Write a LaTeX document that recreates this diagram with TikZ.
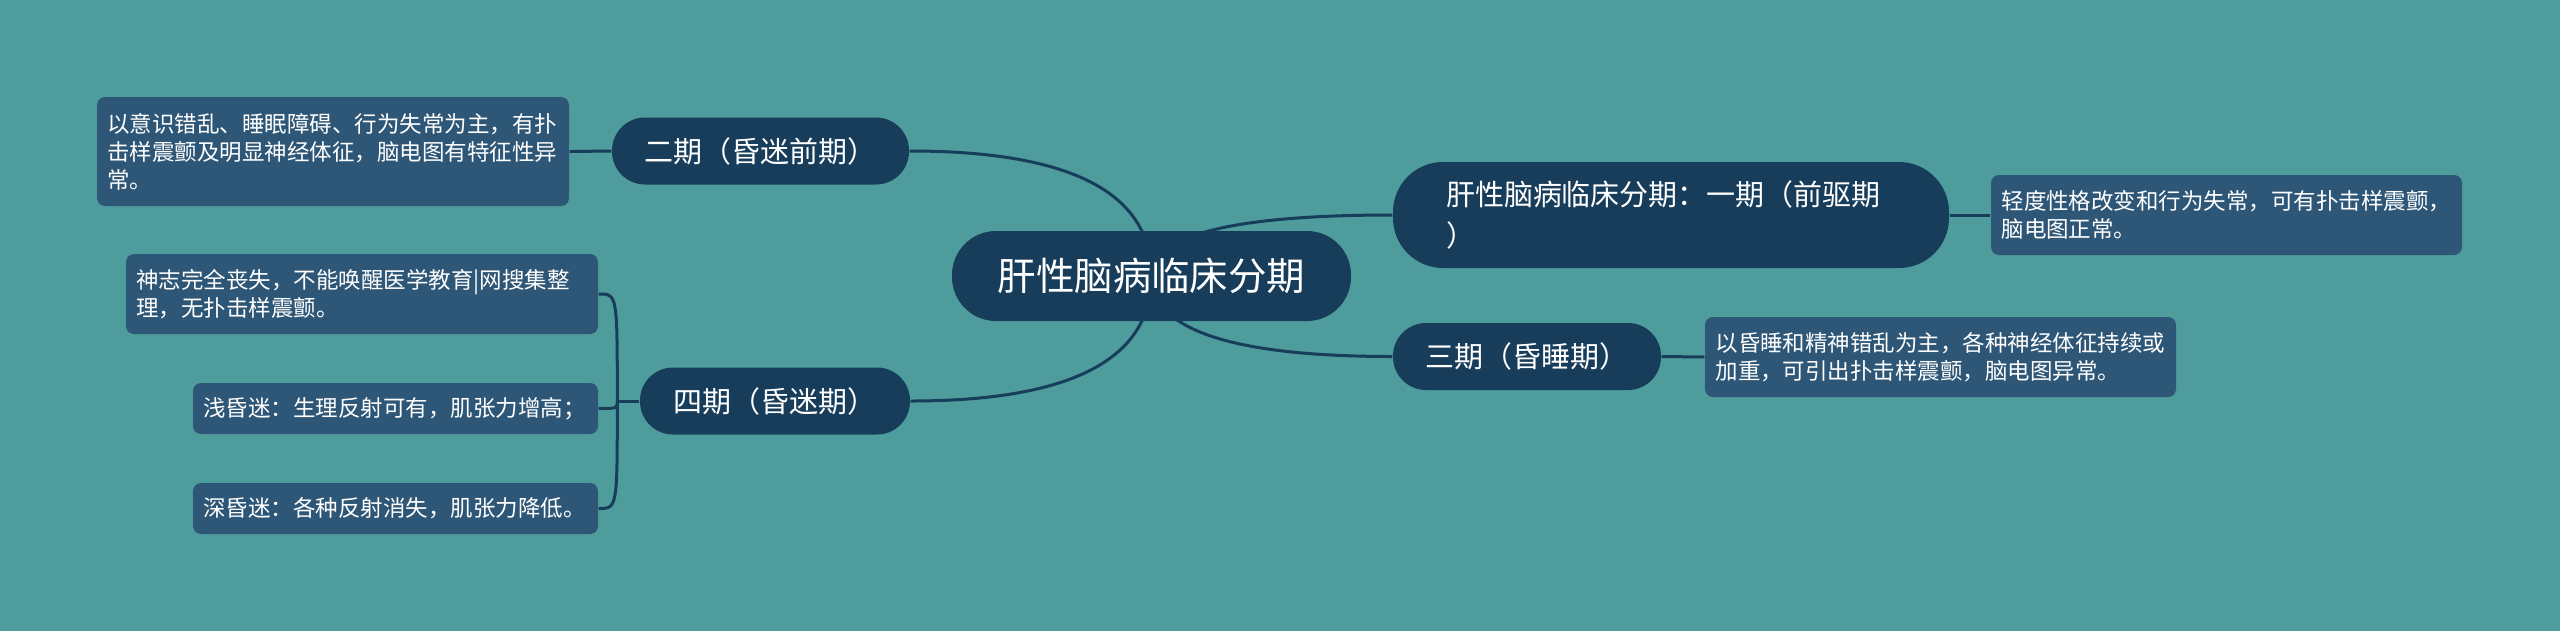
\documentclass[tikz,border=0pt]{standalone}
\usepackage{fontspec}
\setmainfont{Noto Sans CJK SC}
\usetikzlibrary{calc}
\definecolor{bgc}{HTML}{4E9C9C}
\definecolor{navy}{HTML}{173D5B}
\definecolor{boxc}{HTML}{2E5777}
\pgfdeclarelayer{bgl}
\pgfdeclarelayer{edges}
\pgfsetlayers{bgl,edges,main}
\begin{document}
\begin{tikzpicture}[x=0.1mm,y=-0.1mm,
 root/.style={fill=navy,text=white,rounded corners=4.4mm,minimum width=39.9mm,minimum height=9mm,inner sep=0pt,font=\fontsize{10.95pt}{13pt}\selectfont},
 branch/.style={fill=navy,text=white,rounded corners=3.3mm,minimum height=6.7mm,inner sep=0pt,font=\fontsize{8.25pt}{11.4pt}\selectfont},
 leaf/.style={fill=boxc,text=white,rounded corners=0.8mm,inner xsep=1.05mm,inner ysep=0pt,align=left,font=\fontsize{6.4pt}{7.97pt}\selectfont},
 edge/.style={draw=navy,line width=0.3mm}
]
\useasboundingbox (0,0) rectangle (2560,631);
\begin{pgfonlayer}{bgl}
\fill[bgc] (0,0) rectangle (2560,631);
\end{pgfonlayer}

\node[root] (c) at (1151.5,276) {肝性脑病临床分期};
\node[branch,minimum width=29.7mm] (n2) at (760.5,151) {二期（昏迷前期）};
\node[branch,minimum width=27mm] (n4) at (775,401) {四期（昏迷期）};
\node[branch,minimum width=26.8mm] (n3) at (1527,356.5) {三期（昏睡期）};
\node[branch,text width=45mm,inner xsep=5.3mm,minimum height=10.6mm,align=left,rounded corners=5mm] (n1) at (1671,215) {肝性脑病临床分期：一期（前驱期\\）};

\node[leaf,text width=45.1mm,minimum height=10.9mm] (b2) at (333,151.5) {以意识错乱、睡眠障碍、行为失常为主，有扑\\击样震颤及明显神经体征，脑电图有特征性异\\常。};
\node[leaf,text width=45.1mm,minimum height=8mm] (b4a) at (362,294) {神志完全丧失，不能唤醒医学教育|网搜集整\\理，无扑击样震颤。};
\node[leaf,text width=38.4mm,minimum height=5.1mm] (b4b) at (395.5,408.5) {浅昏迷：生理反射可有，肌张力增高；};
\node[leaf,text width=38.4mm,minimum height=5.1mm] (b4c) at (395.5,508.5) {深昏迷：各种反射消失，肌张力降低。};
\node[leaf,text width=45.0mm,minimum height=8mm] (b1) at (2226.5,215) {轻度性格改变和行为失常，可有扑击样震颤，\\脑电图正常。};
\node[leaf,text width=45.0mm,minimum height=8mm] (b3) at (1940.5,357) {以昏睡和精神错乱为主，各种神经体征持续或\\加重，可引出扑击样震颤，脑电图异常。};

\begin{pgfonlayer}{edges}
\draw[edge] (c.center) .. controls ($(c.center)!2/3!(c.center|-n2.east)$) and ($(n2.east)!2/3!(c.center|-n2.east)$) .. (n2.east);
\draw[edge] (c.center) .. controls ($(c.center)!2/3!(c.center|-n4.east)$) and ($(n4.east)!2/3!(c.center|-n4.east)$) .. (n4.east);
\draw[edge] (c.center) .. controls ($(c.center)!2/3!(c.center|-n1.west)$) and ($(n1.west)!2/3!(c.center|-n1.west)$) .. (n1.west);
\draw[edge] (c.center) .. controls ($(c.center)!2/3!(c.center|-n3.west)$) and ($(n3.west)!2/3!(c.center|-n3.west)$) .. (n3.west);
\draw[edge] (n2.west) -- (b2.east);
\draw[edge] (n1.east) -- (b1.west);
\draw[edge] (n3.east) -- (b3.west);
\coordinate (j) at ($(n4.west)+(-22,0)$);
\draw[edge] (n4.west) -- (j);
\draw[edge] (j) .. controls (j|-b4a.east) .. (b4a.east);
\draw[edge] (j) .. controls (j|-b4b.east) .. (b4b.east);
\draw[edge] (j) .. controls (j|-b4c.east) .. (b4c.east);
\end{pgfonlayer}
\end{tikzpicture}
\end{document}
